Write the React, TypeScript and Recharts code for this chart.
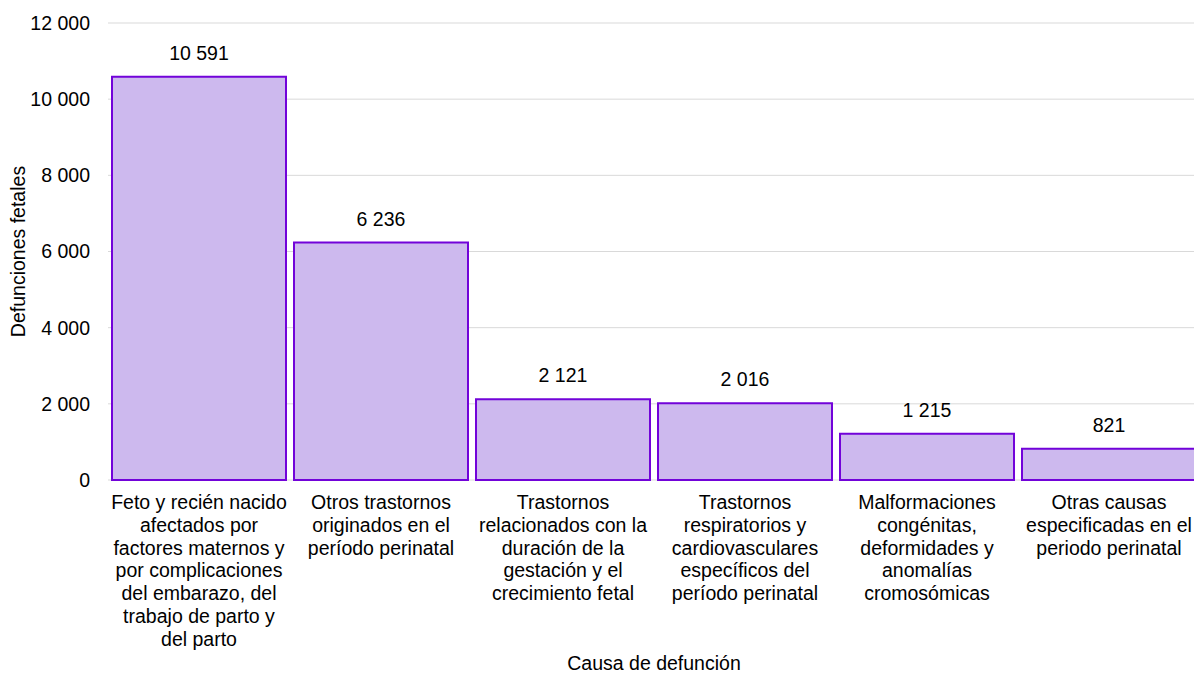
import React from "react";
import { BarChart, Bar, XAxis, YAxis, CartesianGrid, LabelList, Label } from "recharts";

const categories: string[] = [
  "Feto y recién nacido\nafectados por\nfactores maternos y\npor complicaciones\ndel embarazo, del\ntrabajo de parto y\ndel parto",
  "Otros trastornos\noriginados en el\nperíodo perinatal",
  "Trastornos\nrelacionados con la\nduración de la\ngestación y el\ncrecimiento fetal",
  "Trastornos\nrespiratorios y\ncardiovasculares\nespecíficos del\nperíodo perinatal",
  "Malformaciones\ncongénitas,\ndeformidades y\nanomalías\ncromosómicas",
  "Otras causas\nespecificadas en el\nperiodo perinatal",
];
const defunciones: number[] = [10591, 6236, 2121, 2016, 1215, 821];
const yTicks: number[] = [0, 2000, 4000, 6000, 8000, 10000, 12000];
const xTitle = "Causa de defunción";
const yTitle = "Defunciones fetales";

const data = categories.map((c, i) => ({ cause: c, value: defunciones[i] }));

const FONT = "'Liberation Sans', Arial, sans-serif";
const FS = 19.5;
const fmt = (n: number) => String(n).replace(/\B(?=(\d{3})+(?!\d))/g, " ");

const XTick = (props: any) => {
  const { x, y, payload } = props;
  const lines = String(payload.value).split("\n");
  return (
    <text x={x} y={y} textAnchor="middle" fontFamily={FONT} fontSize={FS} fill="#000">
      {lines.map((l, i) => (
        <tspan key={i} x={x} dy={i === 0 ? 21 : 22.8}>
          {l}
        </tspan>
      ))}
    </text>
  );
};

const YTitle = (props: any) => {
  const vb = props.viewBox || {};
  const cy = (vb.y || 0) + (vb.height || 0) / 2;
  const cx = 10;
  return (
    <text
      x={cx}
      y={cy}
      transform={`rotate(-90, ${cx}, ${cy})`}
      textAnchor="middle"
      dominantBaseline="central"
      fontFamily={FONT}
      fontSize={FS}
      fill="#000"
    >
      {yTitle}
    </text>
  );
};

export default function App() {
  return (
    <div
      style={{
        position: "fixed",
        left: 0,
        top: 0,
        width: 1194,
        height: 675,
        overflow: "hidden",
        background: "#fff",
      }}
    >
      <div style={{ position: "absolute", left: 8, top: 8 }}>
        <BarChart
          width={1200}
          height={667}
          data={data}
          margin={{ top: 15, right: 8, bottom: 0, left: 0 }}
          barCategoryGap={4}
        >
          <CartesianGrid vertical={false} stroke="#D9D9D9" strokeWidth={1} />
          <XAxis
            dataKey="cause"
            height={195}
            axisLine={false}
            tickLine={false}
            interval={0}
            tick={<XTick />}
          >
            <Label
              value={xTitle}
              position="insideBottom"
              offset={5}
              style={{ fontFamily: FONT, fontSize: FS, fill: "#000" }}
            />
          </XAxis>
          <YAxis
            width={100}
            domain={[0, 12000]}
            ticks={yTicks}
            axisLine={false}
            tickLine={false}
            tickSize={0}
            tickMargin={18}
            tickFormatter={fmt}
            tick={{ fontFamily: FONT, fontSize: FS, fill: "#000" }}
          >
            <Label content={<YTitle />} />
          </YAxis>
          <Bar
            dataKey="value"
            fill="#CDB9EE"
            stroke="#7203D9"
            strokeWidth={2}
            isAnimationActive={false}
          >
            <LabelList
              dataKey="value"
              position="top"
              offset={17}
              formatter={(v: any) => fmt(Number(v))}
              style={{ fontFamily: FONT, fontSize: FS, fill: "#000" }}
            />
          </Bar>
        </BarChart>
      </div>
    </div>
  );
}
